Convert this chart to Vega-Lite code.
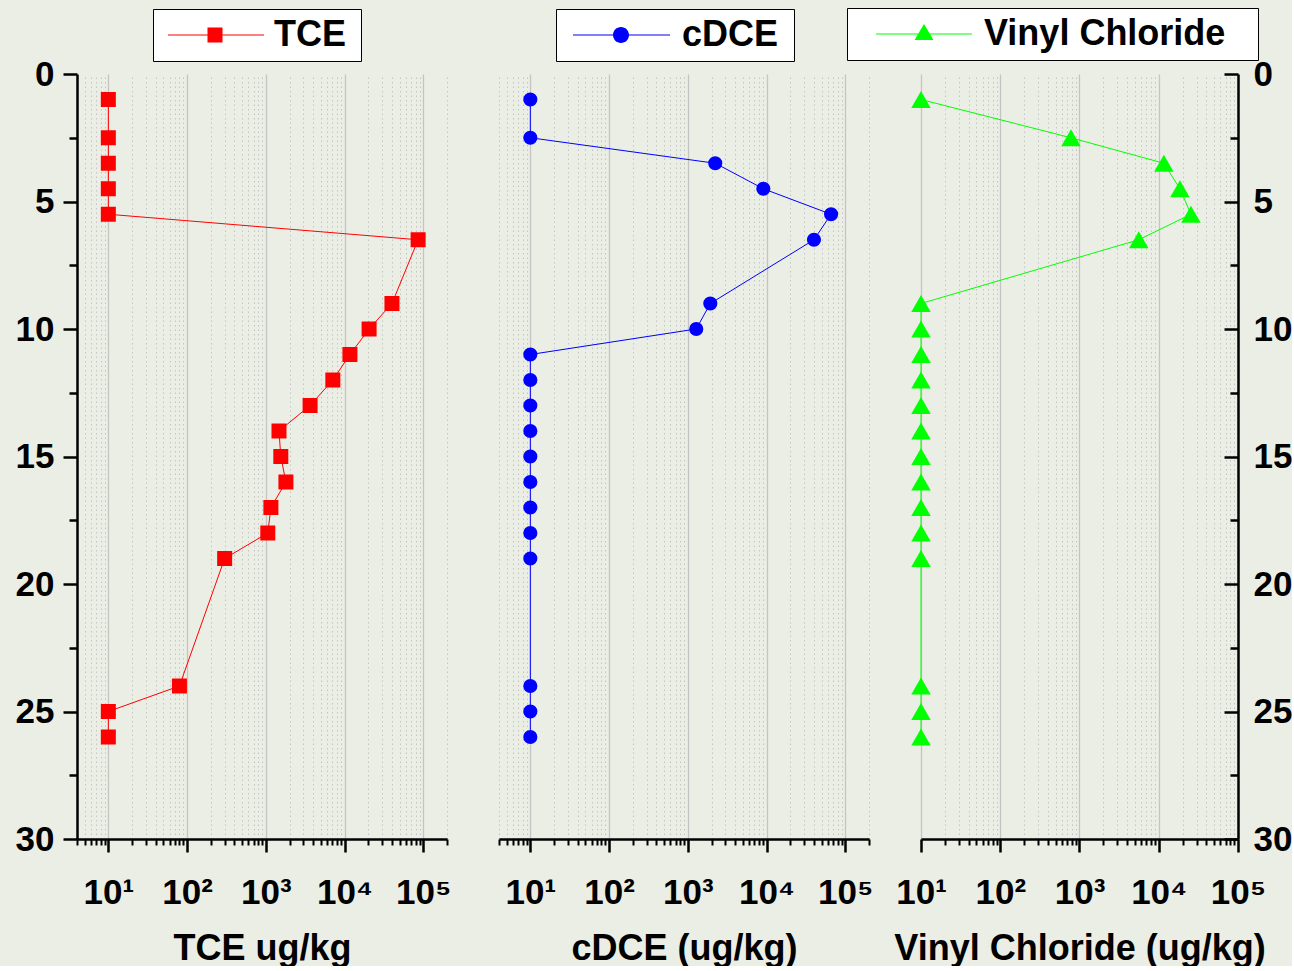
{
  "$schema": "https://vega.github.io/schema/vega-lite/v6.json",
  "background": "#EBEEE5",
  "padding": {"left": 15, "top": 7, "right": 0, "bottom": 0},
  "data": {"values": [
    {"series": "TCE", "depth": 1, "value": 10},
    {"series": "TCE", "depth": 2.5, "value": 10},
    {"series": "TCE", "depth": 3.5, "value": 10},
    {"series": "TCE", "depth": 4.5, "value": 10},
    {"series": "TCE", "depth": 5.5, "value": 10},
    {"series": "TCE", "depth": 6.5, "value": 86000},
    {"series": "TCE", "depth": 9, "value": 40000},
    {"series": "TCE", "depth": 10, "value": 20500},
    {"series": "TCE", "depth": 11, "value": 11700},
    {"series": "TCE", "depth": 12, "value": 7100},
    {"series": "TCE", "depth": 13, "value": 3650},
    {"series": "TCE", "depth": 14, "value": 1470},
    {"series": "TCE", "depth": 15, "value": 1550},
    {"series": "TCE", "depth": 16, "value": 1800},
    {"series": "TCE", "depth": 17, "value": 1160},
    {"series": "TCE", "depth": 18, "value": 1060},
    {"series": "TCE", "depth": 19, "value": 300},
    {"series": "TCE", "depth": 24, "value": 80},
    {"series": "TCE", "depth": 25, "value": 10},
    {"series": "TCE", "depth": 26, "value": 10},
    {"series": "cDCE", "depth": 1, "value": 10},
    {"series": "cDCE", "depth": 2.5, "value": 10},
    {"series": "cDCE", "depth": 3.5, "value": 2230},
    {"series": "cDCE", "depth": 4.5, "value": 9100},
    {"series": "cDCE", "depth": 5.5, "value": 66000},
    {"series": "cDCE", "depth": 6.5, "value": 40000},
    {"series": "cDCE", "depth": 9, "value": 1930},
    {"series": "cDCE", "depth": 10, "value": 1280},
    {"series": "cDCE", "depth": 11, "value": 10},
    {"series": "cDCE", "depth": 12, "value": 10},
    {"series": "cDCE", "depth": 13, "value": 10},
    {"series": "cDCE", "depth": 14, "value": 10},
    {"series": "cDCE", "depth": 15, "value": 10},
    {"series": "cDCE", "depth": 16, "value": 10},
    {"series": "cDCE", "depth": 17, "value": 10},
    {"series": "cDCE", "depth": 18, "value": 10},
    {"series": "cDCE", "depth": 19, "value": 10},
    {"series": "cDCE", "depth": 24, "value": 10},
    {"series": "cDCE", "depth": 25, "value": 10},
    {"series": "cDCE", "depth": 26, "value": 10},
    {"series": "Vinyl Chloride", "depth": 1, "value": 10},
    {"series": "Vinyl Chloride", "depth": 2.5, "value": 780},
    {"series": "Vinyl Chloride", "depth": 3.5, "value": 11600},
    {"series": "Vinyl Chloride", "depth": 4.5, "value": 18500},
    {"series": "Vinyl Chloride", "depth": 5.5, "value": 25500},
    {"series": "Vinyl Chloride", "depth": 6.5, "value": 5600},
    {"series": "Vinyl Chloride", "depth": 9, "value": 10},
    {"series": "Vinyl Chloride", "depth": 10, "value": 10},
    {"series": "Vinyl Chloride", "depth": 11, "value": 10},
    {"series": "Vinyl Chloride", "depth": 12, "value": 10},
    {"series": "Vinyl Chloride", "depth": 13, "value": 10},
    {"series": "Vinyl Chloride", "depth": 14, "value": 10},
    {"series": "Vinyl Chloride", "depth": 15, "value": 10},
    {"series": "Vinyl Chloride", "depth": 16, "value": 10},
    {"series": "Vinyl Chloride", "depth": 17, "value": 10},
    {"series": "Vinyl Chloride", "depth": 18, "value": 10},
    {"series": "Vinyl Chloride", "depth": 19, "value": 10},
    {"series": "Vinyl Chloride", "depth": 24, "value": 10},
    {"series": "Vinyl Chloride", "depth": 25, "value": 10},
    {"series": "Vinyl Chloride", "depth": 26, "value": 10}
  ]},
  "spacing": 52,
  "bounds": "flush",
  "resolve": {"scale": {"color": "independent"}, "legend": {"color": "independent"}},
  "hconcat": [
    {
      "width": 370, "height": 765,
      "transform": [{"filter": "datum.series === 'TCE'"}],
      "layer": [
        {
          "mark": {"type": "line", "color": "#FF0000", "strokeWidth": 1},
          "encoding": {
            "x": {"field": "value", "type": "quantitative",
              "scale": {"type": "log", "domain": [4, 200000], "nice": false},
              "axis": {"orient": "bottom", "values": [10, 100, 1000, 10000, 100000],
                "labelExpr": "'10' + ['⁰','¹','²','³','⁴','⁵','⁶'][round(log(datum.value)/LN10)]",
                "tickSize": 13, "labelPadding": 23, "grid": true, "gridColor": "#C4C4C4", "gridWidth": 1.3,
                "title": "TCE ug/kg", "titlePadding": 21}},
            "y": {"field": "depth", "type": "quantitative",
              "scale": {"domain": [0, 30], "reverse": true, "nice": false, "zero": false},
              "axis": {"orient": "left", "values": [0, 5, 10, 15, 20, 25, 30], "tickSize": 14, "labelPadding": 9, "grid": false, "title": null}},
            "order": {"field": "depth"}
          }
        },
        {
          "mark": {"type": "point", "shape": "square", "filled": true, "size": 225, "opacity": 1},
          "encoding": {
            "x": {"field": "value", "type": "quantitative",
              "scale": {"type": "log", "domain": [4, 200000], "nice": false},
              "axis": {"orient": "bottom", "values": [4,5,6,7,8,9,20,30,40,50,60,70,80,90,200,300,400,500,600,700,800,900,2000,3000,4000,5000,6000,7000,8000,9000,20000,30000,40000,50000,60000,70000,80000,90000,200000],
                "labels": false, "domain": false, "tickSize": 6, "tickWidth": 2,
                "grid": true, "gridDash": [1.5, 3], "gridColor": "#C4C4C4", "gridWidth": 1, "title": null}},
            "y": {"field": "depth", "type": "quantitative",
              "scale": {"domain": [0, 30], "reverse": true, "nice": false, "zero": false},
              "axis": {"orient": "left", "values": [2.5, 7.5, 12.5, 17.5, 22.5, 27.5], "labels": false, "domain": false, "tickSize": 8, "grid": false, "title": null}},
            "color": {"field": "series", "type": "nominal", "scale": {"range": ["#FF0000"]},
              "legend": {"orient": "none", "legendX": 76, "legendY": -65, "title": null,
                "symbolType": "M-1.1,-0.05H8.5V0.05H-1.1Z M2.85,-0.75H4.35V0.75H2.85Z M17.4,0Z",
                "symbolSize": 400, "symbolStrokeWidth": 0, "labelOffset": 77, "padding": 8,
                "encode": {"legend": {"update": {"strokeWidth": {"value": 2}}}}}}
          }
        }
      ],
      "resolve": {"axis": {"x": "independent", "y": "independent"}}
    },
    {
      "width": 370, "height": 765,
      "transform": [{"filter": "datum.series === 'cDCE'"}],
      "layer": [
        {
          "mark": {"type": "line", "color": "#0000FF", "strokeWidth": 1},
          "encoding": {
            "x": {"field": "value", "type": "quantitative",
              "scale": {"type": "log", "domain": [4, 200000], "nice": false},
              "axis": {"orient": "bottom", "values": [10, 100, 1000, 10000, 100000],
                "labelExpr": "'10' + ['⁰','¹','²','³','⁴','⁵','⁶'][round(log(datum.value)/LN10)]",
                "tickSize": 13, "labelPadding": 23, "grid": true, "gridColor": "#C4C4C4", "gridWidth": 1.3,
                "title": "cDCE (ug/kg)", "titlePadding": 21}},
            "y": {"field": "depth", "type": "quantitative",
              "scale": {"domain": [0, 30], "reverse": true, "nice": false, "zero": false},
              "axis": null},
            "order": {"field": "depth"}
          }
        },
        {
          "mark": {"type": "point", "shape": "circle", "filled": true, "size": 200, "opacity": 1},
          "encoding": {
            "x": {"field": "value", "type": "quantitative",
              "scale": {"type": "log", "domain": [4, 200000], "nice": false},
              "axis": {"orient": "bottom", "values": [4,5,6,7,8,9,20,30,40,50,60,70,80,90,200,300,400,500,600,700,800,900,2000,3000,4000,5000,6000,7000,8000,9000,20000,30000,40000,50000,60000,70000,80000,90000,200000],
                "labels": false, "domain": false, "tickSize": 6, "tickWidth": 2,
                "grid": true, "gridDash": [1.5, 3], "gridColor": "#C4C4C4", "gridWidth": 1, "title": null}},
            "y": {"field": "depth", "type": "quantitative",
              "scale": {"domain": [0, 30], "reverse": true, "nice": false, "zero": false},
              "axis": null},
            "color": {"field": "series", "type": "nominal", "scale": {"range": ["#0000FF"]},
              "legend": {"orient": "none", "legendX": 57, "legendY": -65, "title": null,
                "symbolType": "M-0.9,-0.05H8.8V0.05H-0.9Z M4.7,0A0.8,0.8 0 1,1 3.1,0A0.8,0.8 0 1,1 4.7,0Z M20.4,0Z",
                "symbolSize": 400, "symbolStrokeWidth": 0, "labelOffset": 82, "padding": 8,
                "encode": {"legend": {"update": {"strokeWidth": {"value": 2}}}}}}
          }
        }
      ],
      "resolve": {"axis": {"x": "independent", "y": "independent"}}
    },
    {
      "width": 317, "height": 765,
      "transform": [{"filter": "datum.series === 'Vinyl Chloride'"}],
      "layer": [
        {
          "mark": {"type": "line", "color": "#00FF00", "strokeWidth": 1},
          "encoding": {
            "x": {"field": "value", "type": "quantitative",
              "scale": {"type": "log", "domain": [10, 100000], "nice": false},
              "axis": {"orient": "bottom", "values": [10, 100, 1000, 10000, 100000],
                "labelExpr": "'10' + ['⁰','¹','²','³','⁴','⁵','⁶'][round(log(datum.value)/LN10)]",
                "tickSize": 13, "labelPadding": 23, "grid": true, "gridColor": "#C4C4C4", "gridWidth": 1.3,
                "title": "Vinyl Chloride (ug/kg)", "titlePadding": 21}},
            "y": {"field": "depth", "type": "quantitative",
              "scale": {"domain": [0, 30], "reverse": true, "nice": false, "zero": false},
              "axis": {"orient": "right", "values": [0, 5, 10, 15, 20, 25, 30], "tickSize": -14, "labelPadding": 29, "grid": false, "title": null}},
            "order": {"field": "depth"}
          }
        },
        {
          "mark": {"type": "point", "shape": "triangle-up", "filled": true, "size": 380, "opacity": 1},
          "encoding": {
            "x": {"field": "value", "type": "quantitative",
              "scale": {"type": "log", "domain": [10, 100000], "nice": false},
              "axis": {"orient": "bottom", "values": [20,30,40,50,60,70,80,90,200,300,400,500,600,700,800,900,2000,3000,4000,5000,6000,7000,8000,9000,20000,30000,40000,50000,60000,70000,80000,90000],
                "labels": false, "domain": false, "tickSize": 6, "tickWidth": 2,
                "grid": true, "gridDash": [1.5, 3], "gridColor": "#C4C4C4", "gridWidth": 1, "title": null}},
            "y": {"field": "depth", "type": "quantitative",
              "scale": {"domain": [0, 30], "reverse": true, "nice": false, "zero": false},
              "axis": {"orient": "right", "values": [2.5, 7.5, 12.5, 17.5, 22.5, 27.5], "labels": false, "domain": false, "tickSize": -8, "grid": false, "title": null}},
            "color": {"field": "series", "type": "nominal", "scale": {"range": ["#00FF00"]},
              "legend": {"orient": "none", "legendX": -74, "legendY": -66, "title": null,
                "symbolType": "M0.3,-0.05H9.9V0.05H0.3Z M5.1,-1.0L6.05,0.6L4.15,0.6Z M37.7,0Z",
                "symbolSize": 400, "symbolStrokeWidth": 0, "labelOffset": 93, "padding": 8,
                "encode": {"legend": {"update": {"strokeWidth": {"value": 2}}}}}}
          }
        }
      ],
      "resolve": {"axis": {"x": "independent", "y": "independent"}}
    }
  ],
  "config": {
    "view": {"stroke": null},
    "font": "Liberation Sans",
    "axis": {
      "labelFont": "Liberation Sans", "labelFontWeight": "bold", "labelFontSize": 35, "labelColor": "#000000",
      "titleFont": "Liberation Sans", "titleFontWeight": "bold", "titleFontSize": 36, "titleColor": "#000000",
      "domainColor": "#000000", "domainWidth": 2.5, "tickColor": "#000000", "tickWidth": 2.5,
      "labelFlush": false, "labelOverlap": false
    },
    "legend": {
      "labelFont": "Liberation Sans", "labelFontWeight": "bold", "labelFontSize": 36, "labelColor": "#000000",
      "fillColor": "#FFFFFF", "strokeColor": "#000000", "labelLimit": 1000, "cornerRadius": 0
    }
  }
}
